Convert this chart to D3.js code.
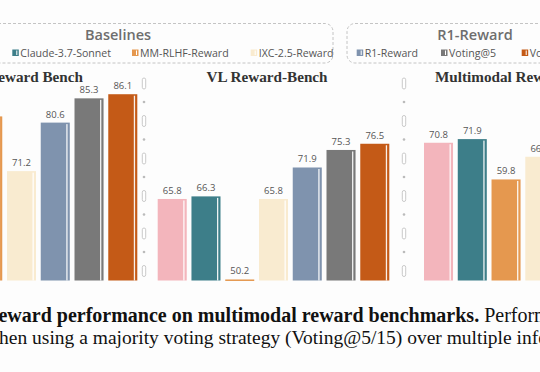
<!DOCTYPE html>
<html><head><meta charset="utf-8">
<script src="https://cdn.jsdelivr.net/npm/d3@7"></script>
<style>html,body{margin:0;padding:0;background:#fff;overflow:hidden}</style>
</head><body><div id="chart"></div>
<script>
const seriesNames = ["GPT-4o", "Claude-3.7-Sonnet", "MM-RLHF-Reward", "IXC-2.5-Reward", "R1-Reward", "Voting@5", "Voting@15"];
const seriesColors = ["#F3B5BC", "#3D7E89", "#E5984F", "#F9EBD0", "#7F93AE", "#797979", "#C45A17"];
const panelTitles = ["MM-RLHF-Reward Bench", "VL Reward-Bench", "Multimodal Reward Bench"];
// values per panel (null = outside the cropped view)
const mmrlhfValues = [null, null, 81.8, 71.2, 80.6, 85.3, 86.1];
const vlValues = [65.8, 66.3, 50.2, 65.8, 71.9, 75.3, 76.5];
const multimodalValues = [70.8, 71.9, 59.8, 66.6, null, null, null];
const baselineLegend = [0, 1, 2, 3];
const r1Legend = [4, 5, 6];

const W = 540, H = 372;
const svg = d3.select("#chart").append("svg").attr("width", W).attr("height", H)
  .style("font-family", "'Open Sans','Noto Sans',sans-serif");
svg.append("rect").attr("width", W).attr("height", H).attr("fill", "#fdfdfd");

const baseY = 280.5;
const panels = [
  {title: panelTitles[0], values: mmrlhfValues, x0: -94.3, min: 50, ppu: 5.16, titleX: 83, anchor: "end"},
  {title: panelTitles[1], values: vlValues, x0: 157.7, min: 50, ppu: 5.16, titleX: 267, anchor: "middle"},
  {title: panelTitles[2], values: multimodalValues, x0: 424, min: 29.5, ppu: 3.335, titleX: 435, anchor: "start"}
];
const span = 231.6;

panels.forEach(p => {
  const x = d3.scaleBand().domain(d3.range(seriesNames.length)).range([p.x0, p.x0 + span]).paddingInner(0.14).paddingOuter(0);
  const y = d3.scaleLinear().domain([p.min, 90]).range([baseY, baseY - (90 - p.min) * p.ppu]);
  const data = p.values.map((v, i) => ({v, i})).filter(d => d.v !== null);
  const g = svg.append("g");
  g.selectAll("rect.bar").data(data).join("rect").attr("class", "bar")
    .attr("x", d => x(d.i)).attr("width", x.bandwidth())
    .attr("y", d => y(d.v)).attr("height", d => Math.max(1.5, baseY - y(d.v)))
    .attr("fill", d => seriesColors[d.i]);
  g.selectAll("rect.hl").data(data.filter(d => baseY - y(d.v) > 4)).join("rect").attr("class", "hl")
    .attr("x", d => x(d.i) + x.bandwidth() - 3.5).attr("width", 1.3)
    .attr("y", d => y(d.v) + 1.5).attr("height", d => baseY - y(d.v) - 1.5)
    .attr("fill", "#ffffff").attr("opacity", 0.9);
  g.selectAll("text.val").data(data).join("text").attr("class", "val")
    .attr("x", d => x(d.i) + x.bandwidth() / 2).attr("y", d => Math.min(y(d.v), baseY - 2) - 5)
    .attr("text-anchor", "middle").attr("font-size", 9.5).attr("fill", "#555")
    .text(d => d.v.toFixed(1));
  svg.append("text").attr("x", p.titleX).attr("y", 82).attr("text-anchor", p.anchor)
    .attr("font-family", "'Liberation Serif','Times New Roman',serif").attr("font-weight", "bold")
    .attr("font-size", 15.2).attr("fill", "#333").text(p.title);
});

// separators
[144, 404].forEach(sx => {
  const sg = svg.append("g");
  d3.range(78, 280, 37.5).forEach(cy => {
    sg.append("rect").attr("x", sx - 1.7).attr("y", cy).attr("width", 3.4).attr("height", 11)
      .attr("rx", 1.7).attr("fill", "#fff").attr("stroke", "#c4c4c4").attr("stroke-width", 0.9);
    if (cy + 24 < 280) sg.append("circle").attr("cx", sx).attr("cy", cy + 24).attr("r", 1.3).attr("fill", "#bbb");
  });
});

// legend boxes
svg.append("rect").attr("x", -30).attr("y", 23.5).attr("width", 363).attr("height", 39.5).attr("rx", 8)
  .attr("fill", "none").attr("stroke", "#bdbdbd").attr("stroke-dasharray", "3,2").attr("stroke-width", 0.9);
svg.append("rect").attr("x", 347).attr("y", 23.5).attr("width", 230).attr("height", 39.5).attr("rx", 8)
  .attr("fill", "none").attr("stroke", "#bdbdbd").attr("stroke-dasharray", "3,2").attr("stroke-width", 0.9);
svg.append("text").attr("x", 118).attr("y", 40).attr("text-anchor", "middle").attr("font-size", 14.5)
  .attr("font-weight", 600).attr("fill", "#6e6e6e").text("Baselines");
svg.append("text").attr("x", 475).attr("y", 40).attr("text-anchor", "middle").attr("font-size", 14.5)
  .attr("font-weight", 600).attr("fill", "#6e6e6e").text("R1-Reward");

const legendX = {0: -62, 1: 12.3, 2: 132, 3: 250.7, 4: 356.7, 5: 441, 6: 521.7};
[...baselineLegend, ...r1Legend].forEach(i => {
  const lx = legendX[i];
  svg.append("rect").attr("x", lx).attr("y", 49.5).attr("width", 6.5).attr("height", 6.5).attr("fill", seriesColors[i]);
  svg.append("rect").attr("x", lx + 4).attr("y", 50.5).attr("width", 1).attr("height", 4.5).attr("fill", "#fff");
  svg.append("text").attr("x", lx + 8).attr("y", 56.5).attr("font-size", 10.6).attr("fill", "#555").text(seriesNames[i]);
});

// caption
const cap = svg.append("g").attr("font-family", "'Liberation Serif','Times New Roman',serif").attr("fill", "#111");
const l1 = cap.append("text").attr("x", -16).attr("y", 322).attr("font-size", 20);
l1.append("tspan").attr("font-weight", "bold").text("Reward performance on multimodal reward benchmarks.");
l1.append("tspan").text(" Performance improves");
cap.append("text").attr("x", -15).attr("y", 344).attr("font-size", 19.5).text("when using a majority voting strategy (Voting@5/15) over multiple inferences");
</script></body></html>
